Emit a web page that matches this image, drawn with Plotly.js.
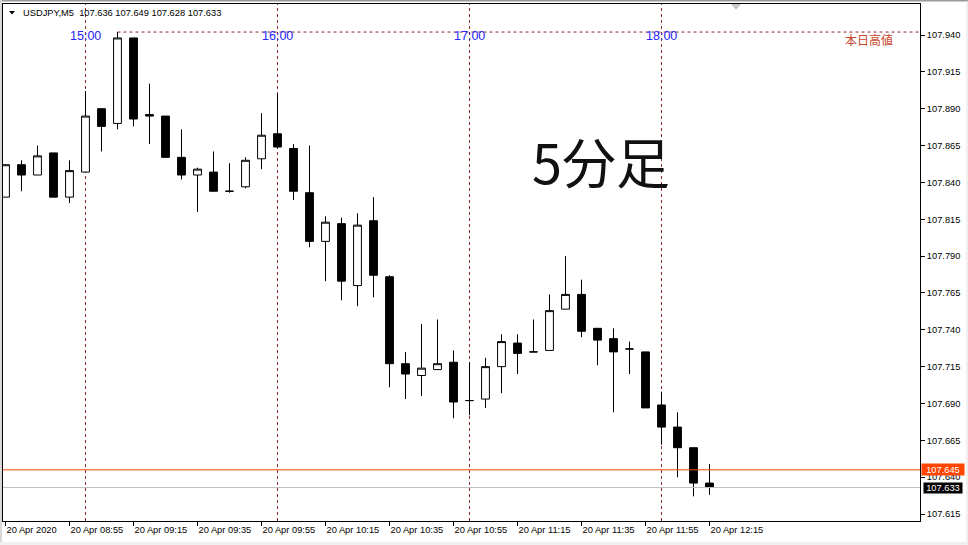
<!DOCTYPE html>
<html>
<head>
<meta charset="utf-8">
<script src="https://cdn.plot.ly/plotly-3.0.1.min.js"></script>
<style>
  html, body { margin: 0; padding: 0; background: #ffffff; }
  #chart { width: 968px; height: 545px; }
</style>
</head>
<body>
<div id="chart"></div>
<script>
// USDJPY, 5-minute bars, 20 Apr 2020
const symbol = 'USDJPY,M5';
const barTimes = [
  '08:35','08:40','08:45','08:50','08:55','09:00','09:05','09:10','09:15','09:20',
  '09:25','09:30','09:35','09:40','09:45','09:50','09:55','10:00','10:05','10:10',
  '10:15','10:20','10:25','10:30','10:35','10:40','10:45','10:50','10:55','11:00',
  '11:05','11:10','11:15','11:20','11:25','11:30','11:35','11:40','11:45','11:50',
  '11:55','12:00','12:05','12:10','12:15'
];
const openPrices = [
  107.830,107.852,107.845,107.860,107.830,107.847,107.890,107.880,107.938,107.886,
  107.885,107.857,107.845,107.847,107.834,107.837,107.856,107.873,107.863,107.833,
  107.800,107.812,107.770,107.814,107.776,107.717,107.709,107.713,107.718,107.692,
  107.693,107.715,107.731,107.725,107.726,107.754,107.764,107.741,107.734,107.727,
  107.725,107.689,107.674,107.660,107.636
];
const highPrices = [
  107.852,107.855,107.865,107.860,107.855,107.902,107.890,107.942,107.938,107.907,
  107.885,107.876,107.850,107.861,107.853,107.857,107.887,107.900,107.866,107.865,
  107.817,107.816,107.819,107.830,107.777,107.725,107.744,107.747,107.726,107.718,
  107.721,107.737,107.737,107.747,107.764,107.790,107.774,107.741,107.741,107.732,
  107.725,107.698,107.684,107.660,107.649
];
const lowPrices = [
  107.830,107.834,107.845,107.830,107.826,107.847,107.861,107.876,107.878,107.866,
  107.857,107.842,107.820,107.834,107.833,107.836,107.849,107.863,107.828,107.796,
  107.773,107.760,107.756,107.762,107.701,107.693,107.695,107.713,107.680,107.682,
  107.687,107.697,107.710,107.725,107.726,107.754,107.735,107.716,107.684,107.710,
  107.687,107.662,107.640,107.627,107.628
];
const closePrices = [
  107.852,107.845,107.858,107.830,107.848,107.885,107.878,107.938,107.883,107.885,
  107.857,107.845,107.849,107.834,107.834,107.855,107.872,107.864,107.834,107.800,
  107.813,107.773,107.811,107.777,107.717,107.710,107.714,107.717,107.691,107.692,
  107.715,107.732,107.724,107.725,107.753,107.764,107.739,107.733,107.725,107.727,
  107.687,107.674,107.660,107.636,107.633
];

// Bottom axis labels (server time) and the hour separators (local time)
const xTickIdx = [0,4,8,12,16,20,24,28,32,36,40,44];
const xTickLabels = [
  '20 Apr 2020','20 Apr 08:55','20 Apr 09:15','20 Apr 09:35','20 Apr 09:55','20 Apr 10:15',
  '20 Apr 10:35','20 Apr 10:55','20 Apr 11:15','20 Apr 11:35','20 Apr 11:55','20 Apr 12:15'
];
const hourIdx = [5,17,29,41];
const hourLabels = ['15:00','16:00','17:00','18:00'];

// Price scale
const yTickLabels = [
  '107.615','107.640','107.665','107.690','107.715','107.740','107.765',
  '107.790','107.815','107.840','107.865','107.890','107.915','107.940'
];
const askPrice = 107.645;
const bidPrice = closePrices[closePrices.length - 1];
const highLabel = '本日高値';
const frameLabel = '5分足';

// ---- geometry of the window ----
const W = 968, H = 545;
const M = { l: 3, r: 48, t: 4, b: 24 };
const plotW = W - M.l - M.r, plotH = H - M.t - M.b;
const barPx = 16;
const firstBarPx = 2.5;
const xMin = -firstBarPx / barPx;
const xMax = xMin + plotW / barPx;
const yTop = 107.96103, yBottom = 107.61028;
const px = v => (v - M.l) / plotW;          // pixel -> paper x
const py = v => 1 - (v - M.t) / plotH;      // pixel -> paper y

const xIdx = barTimes.map((_, i) => i);
const dayHigh = Math.max(...highPrices);
const dayHighIdx = highPrices.indexOf(dayHigh);
const last = closePrices.length - 1;

const sepColor = '#8b2c2c';
const uiFont = 'Liberation Sans, Arial, sans-serif';

const candles = {
  type: 'candlestick',
  x: xIdx,
  open: openPrices, high: highPrices, low: lowPrices, close: closePrices,
  increasing: { line: { color: '#000000', width: 1 }, fillcolor: '#ffffff' },
  decreasing: { line: { color: '#000000', width: 1 }, fillcolor: '#000000' },
  whiskerwidth: 0,
  hoverinfo: 'skip',
  showlegend: false
};

const shapes = [];
// hour separators
hourIdx.forEach(i => shapes.push({
  type: 'line', layer: 'below', xref: 'x', yref: 'paper',
  x0: i, x1: i, y0: 0, y1: 1,
  line: { color: sepColor, width: 1, dash: '3px,3px' }
}));
// day high line
shapes.push({
  type: 'line', layer: 'below', xref: 'x', yref: 'y',
  x0: dayHighIdx, x1: xMax, y0: dayHigh, y1: dayHigh,
  line: { color: sepColor, width: 1, dash: '3px,3px' }
});
// bid and ask lines
shapes.push({
  type: 'line', xref: 'paper', yref: 'y', x0: 0, x1: 1, y0: bidPrice, y1: bidPrice,
  line: { color: '#c0c0c0', width: 1 }
});
shapes.push({
  type: 'line', xref: 'paper', yref: 'y', x0: 0, x1: 1, y0: askPrice, y1: askPrice,
  line: { color: '#ff4500', width: 1 }
});
// window chrome
shapes.push({ type: 'rect', xref: 'paper', yref: 'paper', x0: px(0), x1: px(W), y0: py(0), y1: py(1.6),
  fillcolor: '#9a9a9a', line: { width: 0 } });
shapes.push({ type: 'rect', xref: 'paper', yref: 'paper', x0: px(0), x1: px(2), y0: py(0), y1: py(H),
  fillcolor: '#d8d8d8', line: { width: 0 } });
shapes.push({ type: 'rect', xref: 'paper', yref: 'paper', x0: px(966), x1: px(W), y0: py(1.6), y1: py(H),
  fillcolor: '#f0f0f0', line: { width: 0 } });
shapes.push({ type: 'rect', xref: 'paper', yref: 'paper', x0: px(0), x1: px(966), y0: py(542), y1: py(H),
  fillcolor: '#f0f0f0', line: { width: 0 } });
// symbol menu arrow and chart shift marker
shapes.push({ type: 'path', xref: 'paper', yref: 'paper',
  path: `M${px(9)},${py(11)} L${px(15)},${py(11)} L${px(12)},${py(14.5)} Z`,
  fillcolor: '#000000', line: { width: 0 } });
shapes.push({ type: 'path', xref: 'paper', yref: 'paper',
  path: `M${px(731)},${py(4)} L${px(741)},${py(4)} L${px(736)},${py(10)} Z`,
  fillcolor: '#c8c8c8', line: { width: 0 } });

const fmt = v => v.toFixed(3);
const annotations = [];
annotations.push({
  xref: 'paper', yref: 'paper', x: px(20.5), y: py(12.7), xanchor: 'left', yanchor: 'middle',
  text: `${symbol}  ${fmt(openPrices[last])} ${fmt(highPrices[last])} ${fmt(lowPrices[last])} ${fmt(closePrices[last])}`,
  showarrow: false, font: { family: uiFont, size: 9.3, color: '#000000' }
});
hourIdx.forEach((i, k) => annotations.push({
  xref: 'x', yref: 'paper', x: i, y: py(36), xanchor: 'center', yanchor: 'middle',
  text: hourLabels[k], showarrow: false,
  font: { family: uiFont, size: 12.5, color: '#2424ff' }
}));
annotations.push({
  xref: 'paper', yref: 'y', x: px(869), y: dayHigh, xanchor: 'center', yanchor: 'middle', yshift: -7,
  text: highLabel, showarrow: false,
  font: { family: 'Noto Sans CJK JP', size: 12, color: '#c8452c' }
});
annotations.push({
  xref: 'paper', yref: 'paper', x: px(601), y: py(160), xanchor: 'center', yanchor: 'middle',
  text: frameLabel, showarrow: false,
  font: { family: 'Noto Sans CJK JP', size: 54, color: '#111111' }
});
annotations.push({
  xref: 'paper', yref: 'y', x: px(921), y: askPrice, xanchor: 'left', yanchor: 'middle',
  text: fmt(askPrice), showarrow: false, bgcolor: '#ff4500', borderpad: 0,
  width: 42, height: 11, align: 'center',
  font: { family: uiFont, size: 9.3, color: '#ffffff' }
});
annotations.push({
  xref: 'paper', yref: 'y', x: px(922.5), y: bidPrice, xanchor: 'left', yanchor: 'middle',
  text: fmt(bidPrice), showarrow: false, bgcolor: '#000000', borderpad: 0,
  width: 38, height: 10, align: 'center',
  font: { family: uiFont, size: 9.3, color: '#ffffff' }
});

const layout = {
  width: W, height: H,
  margin: M,
  paper_bgcolor: '#ffffff', plot_bgcolor: '#ffffff',
  showlegend: false,
  dragmode: false,
  xaxis: {
    range: [xMin, xMax], fixedrange: true,
    rangeslider: { visible: false },
    showgrid: false, zeroline: false,
    showline: true, mirror: true, linecolor: '#000000', linewidth: 1,
    tickmode: 'array', tickvals: xTickIdx, ticktext: xTickLabels,
    ticks: 'outside', ticklen: 4, tickcolor: '#000000', tickwidth: 1,
    ticklabelposition: 'outside right',
    tickfont: { family: uiFont, size: 9.3, color: '#000000' }
  },
  yaxis: {
    range: [yBottom, yTop], fixedrange: true, side: 'right',
    showgrid: false, zeroline: false,
    showline: true, mirror: true, linecolor: '#000000', linewidth: 1,
    tickmode: 'array', tickvals: yTickLabels.map(Number), ticktext: yTickLabels,
    ticks: 'outside', ticklen: 4, tickcolor: '#000000', tickwidth: 1,
    tickfont: { family: uiFont, size: 9.3, color: '#000000' }
  },
  shapes: shapes,
  annotations: annotations
};

Plotly.newPlot('chart', [candles], layout, { displayModeBar: false, staticPlot: true });
</script>
</body>
</html>
